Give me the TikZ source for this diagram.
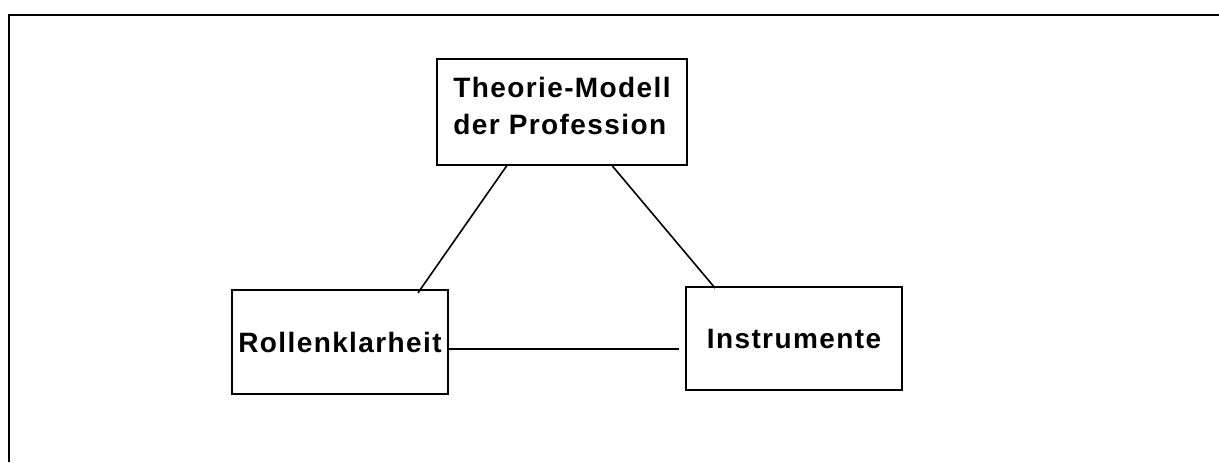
\documentclass[tikz,border=0pt]{standalone}
\usepackage{fontspec}
\setmainfont{Liberation Sans}
\newfontfamily\boxfont[LetterSpace=5]{Liberation Sans}
\usetikzlibrary{calc}
\usetikzlibrary{positioning}
\tikzset{
    % Frame lines and the boxes share one weight
    frame line/.style={line width=1.5pt},
%
    % A plain rectangular box holding a bold label
    concept box/.style={draw, frame line, inner sep=0pt,
        minimum width=216*0.75pt, minimum height=104*0.75pt,
        font=\boxfont\bfseries\fontsize{21}{27.5}\selectfont},
%
    % Thin link between two boxes
    link/.style={line width=1.2pt}}

\begin{document}
\begin{tikzpicture}[x=0.75pt, y=-0.75pt]
\useasboundingbox (0,0) rectangle (1219,462);

% Outer frame, only its top and left sides are visible
\draw[frame line] (9,462) |- (1219,15);

% The three boxes of the triangle
\node[concept box, minimum width=250*0.75pt, minimum height=106*0.75pt,
    align=left, text depth=9pt] at (562,112) (theorie)
    {Theorie-Modell\\der Profession};
\node[concept box] at (340,342) (rollen) {Rollenklarheit};
\node[concept box, minimum height=103*0.75pt] at (794,338.5)
    (instrumente) {Instrumente};

% Links between them
\draw[link, shorten >=-3.5pt]
    ($(theorie.south west)!0.28!(theorie.south east)$) --
    ($(rollen.north west)!0.87!(rollen.north east)$);
\draw[link, shorten >=-2pt]
    ($(theorie.south west)!0.70!(theorie.south east)$) --
    ($(instrumente.north west)!0.13!(instrumente.north east)$);
\coordinate (h start) at ([yshift=-5.25pt]rollen.east);
\draw[link, shorten >=4.5pt] (h start) -- (h start -| instrumente.west);
\end{tikzpicture}
\end{document}
